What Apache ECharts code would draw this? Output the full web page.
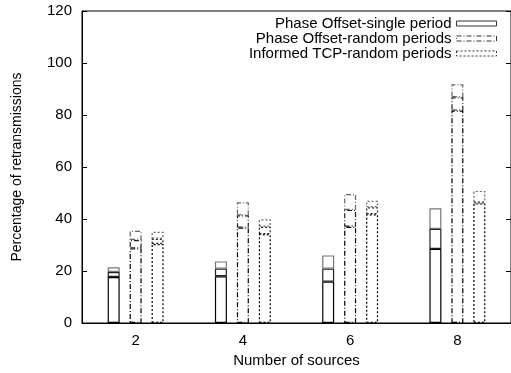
<!DOCTYPE html>
<html><head><meta charset="utf-8">
<script src="https://cdn.jsdelivr.net/npm/echarts@6/dist/echarts.min.js"></script>
<style>html,body{margin:0;padding:0;background:#fff}#c{width:511px;height:373px}</style>
</head><body><div id="c"></div>
<script>
const categories = ['2', '4', '6', '8'];
const yTicks = [0, 20, 40, 60, 80, 100, 120];
const seriesNames = ['Phase Offset-single period', 'Phase Offset-random periods', 'Informed TCP-random periods'];
// three levels per bar (low, mid, high)
const singleLow  = [17.7, 18.0, 15.9, 28.5];
const singleMid  = [19.6, 20.9, 20.9, 36.2];
const singleHigh = [21.4, 23.7, 26.0, 44.1];
const randomLow  = [28.7, 36.7, 37.0, 81.7];
const randomMid  = [31.9, 41.4, 43.5, 86.8];
const randomHigh = [35.5, 46.4, 49.6, 91.8];
const informedLow  = [30.4, 34.2, 41.8, 46.0];
const informedMid  = [32.4, 37.0, 44.5, 46.4];
const informedHigh = [35.1, 39.9, 47.0, 50.8];

const groups = [
  {name: seriesNames[0], levels: [singleLow, singleMid, singleHigh], type: 'solid', colors: ['#000', '#222', '#777']},
  {name: seriesNames[1], levels: [randomLow, randomMid, randomHigh], type: [5, 2, 1, 2], colors: ['#000', '#222', '#666']},
  {name: seriesNames[2], levels: [informedLow, informedMid, informedHigh], type: [2, 2], colors: ['#000', '#222', '#666']}
];
const series = [];
groups.forEach((g, gi) => {
  g.levels.forEach((arr, li) => {
    const prev = li === 0 ? null : g.levels[li - 1];
    series.push({
      name: g.name, type: 'bar', stack: 'g' + gi,
      barWidth: 12, barGap: '83%',
      data: arr.map((v, i) => prev ? +(v - prev[i]).toFixed(2) : v),
      itemStyle: {color: 'rgba(0,0,0,0)', borderColor: g.colors[li], borderWidth: 1.2, borderType: g.type},
      emphasis: {disabled: true}, silent: true, animation: false
    });
  });
});
const chart = echarts.init(document.getElementById('c'), null, {renderer: 'canvas'});
const font = 'Liberation Sans, Arial, sans-serif';
chart.setOption({
  animation: false,
  textStyle: {fontFamily: font, color: '#000'},
  grid: {left: 82, top: 11, width: 434, height: 312, show: true, borderColor: '#000', borderWidth: 1},
  legend: {
    data: groups.map(g => ({name: g.name, icon: 'rect',
      itemStyle: {color: '#fff', borderColor: '#333', borderWidth: 1, borderType: g.type}})),
    orient: 'vertical', right: 14, top: 16, padding: 0, align: 'right', itemWidth: 40, itemHeight: 5, itemGap: 0,
    selectedMode: false,
    textStyle: {fontFamily: font, fontSize: 15, color: '#000', lineHeight: 13.5, padding: [0, 0, 0, 0]}
  },
  xAxis: [{
    type: 'category', data: categories, position: 'bottom',
    name: 'Number of sources', nameLocation: 'middle', nameGap: 30,
    nameTextStyle: {fontFamily: font, fontSize: 15, color: '#000'},
    axisLine: {lineStyle: {color: '#000', width: 1}},
    axisTick: {inside: true, alignWithLabel: true, length: 4, lineStyle: {color: '#000'}},
    axisLabel: {fontFamily: font, fontSize: 15, color: '#000', margin: 10},
    splitLine: {show: false}
  }, {
    type: 'category', data: categories, position: 'top',
    axisLine: {show: false}, axisLabel: {show: false},
    axisTick: {inside: true, alignWithLabel: true, length: 4, lineStyle: {color: '#000'}}
  }],
  yAxis: [{
    type: 'value', min: 0, max: 120, interval: 20,
    name: 'Percentage of retransmissions', nameLocation: 'middle', nameGap: 58,
    nameTextStyle: {fontFamily: font, fontSize: 14, color: '#000'},
    axisLine: {show: true, lineStyle: {color: '#000', width: 1}},
    axisTick: {show: true, inside: true, length: 5, lineStyle: {color: '#000'}},
    axisLabel: {fontFamily: font, fontSize: 15, color: '#000', margin: 10, formatter: v => yTicks.includes(v) ? String(v) : ''},
    splitLine: {show: false}
  }, {
    type: 'value', min: 0, max: 120, interval: 20, position: 'right',
    axisLine: {show: false}, axisLabel: {show: false}, splitLine: {show: false},
    axisTick: {show: true, inside: true, length: 5, lineStyle: {color: '#000'}}
  }],
  series: series
});
</script></body></html>
